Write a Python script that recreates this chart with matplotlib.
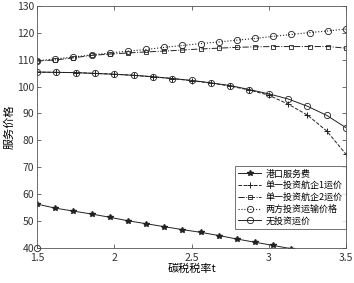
import matplotlib
matplotlib.use("Agg")
import matplotlib.pyplot as plt
import numpy as np

plt.rcParams['font.family'] = ['Noto Sans CJK SC', 'DejaVu Sans']

# carbon tax rate grids (two different sampling densities in the original)
t18 = np.linspace(1.5, 3.5, 18)
t17 = np.arange(1.5, 3.5001, 0.125)

port_fee = [56.3, 54.8, 53.7, 52.6, 51.4, 50.1, 49.0, 47.9, 46.8,
            45.8, 44.6, 43.3, 42.1, 40.9, 39.7, 38.5, 37.3, 36.1]
carrier1 = [105.4, 105.3, 105.2, 104.9, 104.6, 104.2, 103.6, 103.0, 102.2,
            101.3, 100.2, 98.7, 96.8, 93.5, 89.4, 83.5, 74.8]
carrier2 = [109.5, 109.9, 110.7, 111.6, 112.1, 112.5, 112.9, 113.2, 113.6,
            114.0, 114.3, 114.6, 114.8, 114.9, 114.9, 114.9, 114.9, 114.3]
both = [109.6, 110.3, 111.0, 111.8, 112.5, 113.2, 113.8, 114.6, 115.3,
        116.0, 116.6, 117.3, 117.9, 118.7, 119.4, 120.1, 120.7, 121.4]
no_invest = [105.4, 105.3, 105.2, 104.9, 104.6, 104.2, 103.7, 103.0, 102.3,
             101.4, 100.4, 98.9, 97.3, 95.4, 92.7, 89.3, 84.7]

labels = ["港口服务费", "单一投资航企1运价", "单一投资航企2运价",
          "两方投资运输价格", "无投资运价"]

c = "#222222"
fig = plt.figure(figsize=(3.54, 2.83), dpi=100)
ax = fig.add_axes([0.1045, 0.124, 0.873, 0.855])

ax.plot(t18, port_fee, "-", marker="*", ms=4, color=c, lw=0.7, label=labels[0])
ax.plot(t17, carrier1, "--", marker="+", ms=5, mew=0.7, color=c, lw=0.7,
        label=labels[1])
ax.plot(t18, carrier2, "-.", marker="s", ms=3, mfc="none", mew=0.6, color=c,
        lw=0.7, label=labels[2])
ax.plot(t18, both, ":", marker="o", ms=4.5, mfc="none", mew=0.6, color=c,
        lw=0.8, label=labels[3])
ax.plot(t17, no_invest, "-", marker="o", ms=4.5, mfc="none", mew=0.6, color=c,
        lw=0.7, label=labels[4])
ax.plot([1.5], [40], "o", ms=4.5, mfc="none", mew=0.6, color=c, clip_on=False)

ax.set_xlim(1.5, 3.5)
ax.set_ylim(40, 130)
ax.set_xticks([1.5, 2, 2.5, 3, 3.5])
ax.set_xticklabels(["1.5", "2", "2.5", "3", "3.5"])
ax.set_yticks(np.arange(40, 131, 10))
ax.tick_params(direction="in", top=True, right=True, labelsize=7.5,
               length=3, width=0.5, colors="#333333", pad=2)
ax.tick_params(axis="x", pad=3.5)
for s in ax.spines.values():
    s.set_linewidth(0.6)
    s.set_color("#555555")

ax.set_xlabel("碳税税率t", fontsize=8, labelpad=1)
ax.set_ylabel("服务价格", fontsize=8, labelpad=2)

leg = ax.legend(loc="lower right", bbox_to_anchor=(1.0, 0.08), fontsize=6.5,
                frameon=True, fancybox=False, edgecolor="#333333",
                borderpad=0.35, labelspacing=0.28, handlelength=2.6,
                handletextpad=0.5, borderaxespad=0.0)
leg.get_frame().set_linewidth(0.6)

fig.savefig("out.png", dpi=100)
